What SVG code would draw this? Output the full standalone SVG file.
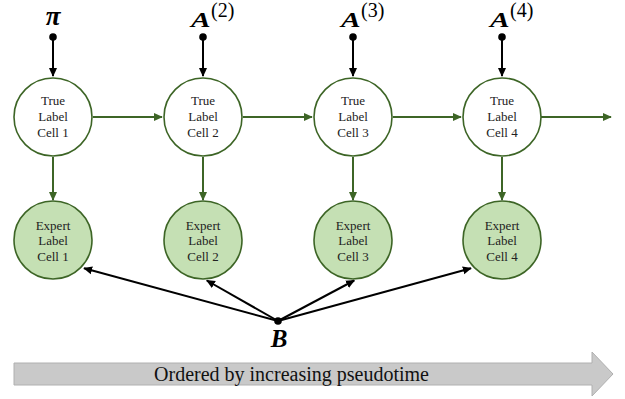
<svg xmlns="http://www.w3.org/2000/svg" width="625" height="399" viewBox="0 0 625 399">
<style>
.true{fill:#ffffff;stroke:#3d6526;stroke-width:1.6}
.exp{fill:#c5e0b4;stroke:#3d6526;stroke-width:1.6}
.nt{font-family:"Liberation Serif","Times New Roman",serif;font-size:13px;fill:#222;text-anchor:middle}
.g{stroke:#3d6526;stroke-width:2;fill:none}
.k{stroke:#000;stroke-width:2;fill:none}
.math{font-family:"Liberation Serif","DejaVu Serif",serif;fill:#000}
.bi{font-weight:bold;font-style:italic}
.sup{font-size:20px}
</style>
<defs>
<marker id="ag" viewBox="0 0 10 10" refX="9" refY="5" markerWidth="9" markerHeight="9" markerUnits="userSpaceOnUse" orient="auto"><path d="M0,0.5 L10,5 L0,9.5 Z" fill="#3d6526"/></marker>
<marker id="ak" viewBox="0 0 10 10" refX="9" refY="5" markerWidth="9" markerHeight="9" markerUnits="userSpaceOnUse" orient="auto"><path d="M0,0.5 L10,5 L0,9.5 Z" fill="#000"/></marker>
</defs>
<g id="timeline">
<polygon points="14,363 592,363 592,352 613,374 592,396 592,385 14,385" fill="#c9c9c9" stroke="#b0b0b0" stroke-width="1"/>
<text x="291.5" y="381" font-family="'Liberation Serif','Times New Roman',serif" font-size="20" text-anchor="middle" fill="#111">Ordered by increasing pseudotime</text>
</g>
<g id="connectors">
<line class="g" x1="93" y1="117" x2="162" y2="117" marker-end="url(#ag)"/>
<line class="g" x1="243" y1="117" x2="312" y2="117" marker-end="url(#ag)"/>
<line class="g" x1="393" y1="117" x2="461" y2="117" marker-end="url(#ag)"/>
<line class="g" x1="541" y1="117" x2="611" y2="117" marker-end="url(#ag)"/>
<line class="g" x1="53" y1="157" x2="53" y2="200" marker-end="url(#ag)"/>
<line class="g" x1="203" y1="157" x2="203" y2="200" marker-end="url(#ag)"/>
<line class="g" x1="353" y1="157" x2="353" y2="200" marker-end="url(#ag)"/>
<line class="g" x1="502" y1="157" x2="502" y2="200" marker-end="url(#ag)"/>
<line class="k" x1="53" y1="37" x2="53" y2="76" marker-end="url(#ak)"/>
<line class="k" x1="203" y1="37" x2="203" y2="76" marker-end="url(#ak)"/>
<line class="k" x1="353" y1="37" x2="353" y2="76" marker-end="url(#ak)"/>
<line class="k" x1="502" y1="37" x2="502" y2="76" marker-end="url(#ak)"/>
<line class="k" x1="278" y1="321" x2="84" y2="268.3" marker-end="url(#ak)"/>
<line class="k" x1="278" y1="321" x2="206.8" y2="280.5" marker-end="url(#ak)"/>
<line class="k" x1="278" y1="321" x2="354.2" y2="280.5" marker-end="url(#ak)"/>
<line class="k" x1="278" y1="321" x2="471" y2="268.3" marker-end="url(#ak)"/>
</g>
<g id="params">
<circle cx="53" cy="37" r="3.8"/>
<circle cx="203" cy="37" r="3.8"/>
<circle cx="353" cy="37" r="3.8"/>
<circle cx="502" cy="37" r="3.8"/>
<circle cx="278" cy="321" r="3.8"/>
<text class="math bi" x="53" y="25" font-size="27" text-anchor="middle">π</text>
<text class="math bi" transform="translate(191,27) scale(1.4,1)" font-size="21">A</text>
<text class="math sup" x="211" y="17">(2)</text>
<text class="math bi" transform="translate(341,27) scale(1.4,1)" font-size="21">A</text>
<text class="math sup" x="361" y="17">(3)</text>
<text class="math bi" transform="translate(490,27) scale(1.4,1)" font-size="21">A</text>
<text class="math sup" x="510" y="17">(4)</text>
<text class="math bi" x="279" y="347" font-size="25" text-anchor="middle">B</text>
</g>
<g id="true1"><circle class="true" cx="53" cy="117" r="39"/><text class="nt" x="53" y="105">True</text><text class="nt" x="53" y="121">Label</text><text class="nt" x="53" y="137">Cell 1</text></g>
<g id="true2"><circle class="true" cx="203" cy="117" r="39"/><text class="nt" x="203" y="105">True</text><text class="nt" x="203" y="121">Label</text><text class="nt" x="203" y="137">Cell 2</text></g>
<g id="true3"><circle class="true" cx="353" cy="117" r="39"/><text class="nt" x="353" y="105">True</text><text class="nt" x="353" y="121">Label</text><text class="nt" x="353" y="137">Cell 3</text></g>
<g id="true4"><circle class="true" cx="502" cy="117" r="39"/><text class="nt" x="502" y="105">True</text><text class="nt" x="502" y="121">Label</text><text class="nt" x="502" y="137">Cell 4</text></g>
<g id="expert1"><circle class="exp" cx="53" cy="240" r="39"/><text class="nt" x="53" y="230">Expert</text><text class="nt" x="53" y="245">Label</text><text class="nt" x="53" y="261">Cell 1</text></g>
<g id="expert2"><circle class="exp" cx="203" cy="240" r="39"/><text class="nt" x="203" y="230">Expert</text><text class="nt" x="203" y="245">Label</text><text class="nt" x="203" y="261">Cell 2</text></g>
<g id="expert3"><circle class="exp" cx="353" cy="240" r="39"/><text class="nt" x="353" y="230">Expert</text><text class="nt" x="353" y="245">Label</text><text class="nt" x="353" y="261">Cell 3</text></g>
<g id="expert4"><circle class="exp" cx="502" cy="240" r="39"/><text class="nt" x="502" y="230">Expert</text><text class="nt" x="502" y="245">Label</text><text class="nt" x="502" y="261">Cell 4</text></g>
</svg>
